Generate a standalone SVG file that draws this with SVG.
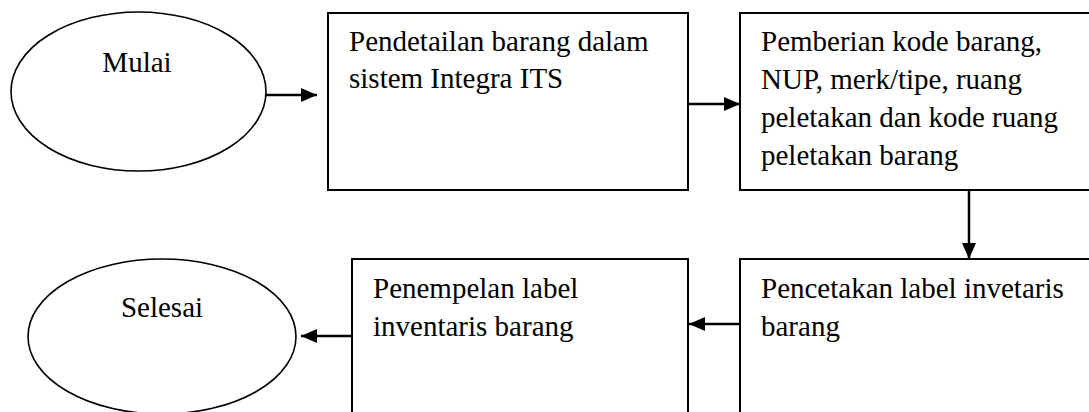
<svg xmlns="http://www.w3.org/2000/svg" width="1089" height="412" viewBox="0 0 1089 412">
  <style>
    .term { fill: #ffffff; stroke: #000000; stroke-width: 1.6; }
    .step { fill: #ffffff; stroke: #000000; stroke-width: 2; }
    .label { font-family: "Liberation Serif", "Times New Roman", serif; font-size: 29px; fill: #000000; }
    .mid { text-anchor: middle; }
    .flow { stroke: #000000; stroke-width: 2.5; fill: none; marker-end: url(#head); }
  </style>
  <defs>
    <marker id="head" viewBox="0 0 16 14" refX="16" refY="7" markerWidth="16" markerHeight="14" markerUnits="userSpaceOnUse" orient="auto">
      <path d="M0,0 L16,7 L0,14 Z" fill="#000000"/>
    </marker>
  </defs>
  <rect width="1089" height="412" fill="#ffffff"/>

  <g id="connectors">
    <line class="flow" x1="266" y1="95" x2="317" y2="95"/>
    <line class="flow" x1="688" y1="104" x2="740" y2="104"/>
    <line class="flow" x1="969" y1="190" x2="969" y2="259"/>
    <line class="flow" x1="740" y1="324" x2="689" y2="324"/>
    <line class="flow" x1="352" y1="336" x2="301" y2="336"/>
  </g>

  <g id="mulai">
    <ellipse class="term" cx="138.5" cy="91.5" rx="127.5" ry="79.5"/>
    <text class="label mid" x="137" y="72">Mulai</text>
  </g>

  <g id="pendetailan">
    <rect class="step" x="328" y="13" width="360" height="177"/>
    <text class="label" x="349" y="51">Pendetailan barang dalam</text>
    <text class="label" x="349" y="88">sistem Integra ITS</text>
  </g>

  <g id="pemberian-kode">
    <rect class="step" x="740" y="13" width="360" height="177"/>
    <text class="label" x="761" y="51">Pemberian kode barang,</text>
    <text class="label" x="761" y="89">NUP, merk/tipe, ruang</text>
    <text class="label" x="761" y="127">peletakan dan kode ruang</text>
    <text class="label" x="761" y="165">peletakan barang</text>
  </g>

  <g id="pencetakan-label">
    <rect class="step" x="740" y="259" width="360" height="177"/>
    <text class="label" x="761" y="298">Pencetakan label invetaris</text>
    <text class="label" x="761" y="336">barang</text>
  </g>

  <g id="penempelan-label">
    <rect class="step" x="352" y="259" width="336" height="177"/>
    <text class="label" x="373" y="298">Penempelan label</text>
    <text class="label" x="373" y="336">inventaris barang</text>
  </g>

  <g id="selesai">
    <ellipse class="term" cx="162" cy="336.5" rx="134" ry="77.5"/>
    <text class="label mid" x="162" y="317">Selesai</text>
  </g>
</svg>
